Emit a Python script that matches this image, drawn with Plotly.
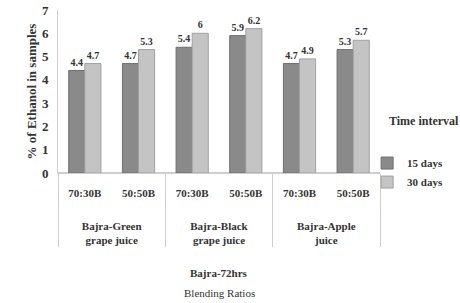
import plotly.graph_objects as go

juices = ["<br><br>Bajra-Green<br>grape juice", "<br><br>Bajra-Green<br>grape juice",
          "<br><br>Bajra-Black<br>grape juice", "<br><br>Bajra-Black<br>grape juice",
          "<br><br>Bajra-Apple<br>juice", "<br><br>Bajra-Apple<br>juice"]
ratios = ["70:30B", "50:50B", "70:30B", "50:50B", "70:30B", "50:50B"]
days15 = [4.4, 4.7, 5.4, 5.9, 4.7, 5.3]
days30 = [4.7, 5.3, 6.0, 6.2, 4.9, 5.7]

font_fam = "Liberation Serif, Times New Roman, serif"

fig = go.Figure()
fig.add_trace(go.Bar(x=[juices, ratios], y=days15, name="15 days",
                     marker=dict(color="#8a8a8a", line=dict(color="#6f6f6f", width=1)),
                     text=[f"{v:g}" for v in days15], textposition="outside",
                     textfont=dict(size=10, color="#333", weight="bold"), cliponaxis=False))
fig.add_trace(go.Bar(x=[juices, ratios], y=days30, name="30 days",
                     marker=dict(color="#c4c4c4", line=dict(color="#a0a0a0", width=1)),
                     text=[f"{v:g}" for v in days30], textposition="outside",
                     textfont=dict(size=10, color="#333", weight="bold"), cliponaxis=False))

fig.update_layout(
    width=460, height=303,
    margin=dict(l=58, r=80, t=10, b=130),
    paper_bgcolor="white", plot_bgcolor="white",
    font=dict(family=font_fam, color="#333", size=11),
    barmode="group", bargap=0.4, bargroupgap=0,
    legend=dict(x=0.96, y=0.15, xanchor="left", yanchor="top",
                bgcolor="rgba(0,0,0,0)",
                font=dict(size=11, weight="bold"), itemwidth=30, tracegroupgap=11),
    xaxis=dict(type="multicategory", showline=True, linecolor="#cfcfcf",
               tickfont=dict(size=11, family=font_fam, color="#333", weight="bold"),
               showdividers=True, dividercolor="#cfcfcf", dividerwidth=1,
               ticks="", showgrid=False, automargin=False, ticklabelstandoff=10),
    yaxis=dict(range=[0, 7], dtick=1, showgrid=False, showline=True, automargin=False,
               linecolor="#cfcfcf", ticks="", zeroline=True, zerolinecolor="#cfcfcf",
               ticklabelstandoff=6,
               tickfont=dict(size=13, family=font_fam, color="#333", weight="bold"),
               title=dict(text="% of Ethanol in samples",
                          font=dict(size=13, weight="bold"), standoff=2)),
)

fig.add_annotation(text="Time interval", xref="paper", yref="paper",
                   x=1.022, y=0.264, xanchor="left", showarrow=False,
                   font=dict(size=12, weight="bold"))
fig.add_annotation(text="Bajra-72hrs", xref="paper", yref="paper",
                   x=0.5, y=-0.66, showarrow=False, font=dict(size=11, weight="bold"))
fig.add_annotation(text="Blending Ratios", xref="paper", yref="paper",
                   x=0.5, y=-0.785, showarrow=False, font=dict(size=11))

fig.write_html("out.html", config={"displayModeBar": False},
               post_script="document.body.style.margin='0';")
